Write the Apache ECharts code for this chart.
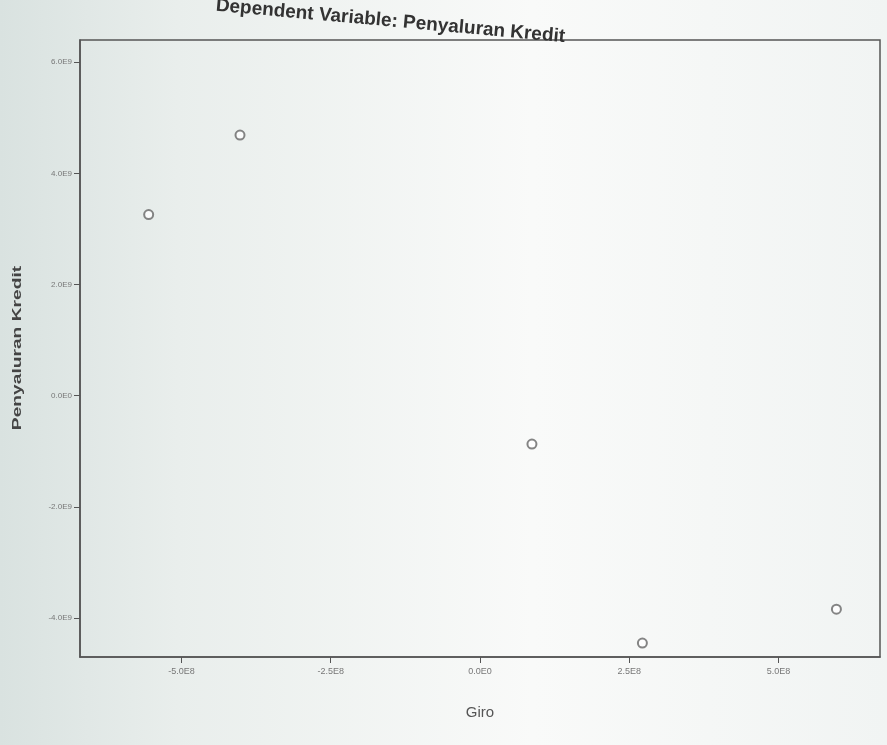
<!DOCTYPE html>
<html><head><meta charset="utf-8">
<script src="https://cdn.jsdelivr.net/npm/echarts@6/dist/echarts.min.js"></script>
<style>html,body{margin:0;padding:0;background:#eef1ef}#c{width:887px;height:745px}</style>
</head><body><div id="c"></div>
<script>
const titleText = "Dependent Variable: Penyaluran Kredit";
const xName = "Giro";
const yName = "Penyaluran Kredit";
const giro = [-5.55e8, -4.02e8, 0.87e8, 2.72e8, 5.97e8];
const kredit = [3.26e9, 4.69e9, -0.87e9, -4.45e9, -3.84e9];
const xTicks = [-5e8, -2.5e8, 0, 2.5e8, 5e8];
const xTickLabels = ["-5.0E8", "-2.5E8", "0.0E0", "2.5E8", "5.0E8"];
const yTicks = [-4e9, -2e9, 0, 2e9, 4e9, 6e9];
const yTickLabels = ["-4.0E9", "-2.0E9", "0.0E0", "2.0E9", "4.0E9", "6.0E9"];

const chart = echarts.init(document.getElementById('c'));
const lab = (vals, labs) => v => { const i = vals.findIndex(t => Math.abs(t - v) < 1); return i >= 0 ? labs[i] : ''; };
chart.setOption({
  backgroundColor: {type:'linear', x:0, y:0, x2:1, y2:0, colorStops:[{offset:0,color:'#d9e2e0'},{offset:0.2,color:'#e9eeec'},{offset:0.6,color:'#f9faf9'},{offset:1,color:'#f1f4f3'}]},
  animation: false,
  grid: {left: 80, right: 7, top: 40, bottom: 88, show: true, borderColor: '#555', borderWidth: 1.5, backgroundColor: 'transparent'},
  graphic: [{
    type: 'text', left: 215, top: -4, rotation: -0.09,
    style: {text: titleText, font: 'bold 19px "Liberation Sans", Arial, sans-serif', fill: '#333'}
  }, {
    type: 'text', x: 18, y: 348, rotation: Math.PI / 2, scaleX: 1.6,
    style: {text: yName, font: 'bold 12px "Liberation Sans", Arial, sans-serif', fill: '#444', align: 'center', verticalAlign: 'middle'}
  }],
  xAxis: {
    type: 'value', min: -6.7e8, max: 6.7e8,
    name: xName, nameLocation: 'middle', nameGap: 48,
    nameTextStyle: {fontSize: 15, color: '#555', fontFamily: 'Liberation Sans'},
    axisLine: {show: true, onZero: false, lineStyle: {color: '#555', width: 1.5}},
    axisTick: {show: true, customValues: xTicks, length: 6, lineStyle: {color: '#555'}},
    axisLabel: {customValues: xTicks, formatter: lab(xTicks, xTickLabels), fontSize: 9, color: '#777', margin: 10, fontFamily: 'Liberation Sans'},
    splitLine: {show: false}
  },
  yAxis: {
    type: 'value', min: -4.7e9, max: 6.4e9,
    axisLine: {show: true, onZero: false, lineStyle: {color: '#555', width: 1.5}},
    axisTick: {show: true, customValues: yTicks, length: 6, lineStyle: {color: '#555'}},
    axisLabel: {customValues: yTicks, formatter: lab(yTicks, yTickLabels), fontSize: 8, color: '#777', margin: 8, fontFamily: 'Liberation Sans'},
    splitLine: {show: false}
  },
  series: [{
    type: 'scatter',
    data: giro.map((g, i) => [g, kredit[i]]),
    symbol: 'emptyCircle', symbolSize: 9,
    itemStyle: {color: '#666', borderColor: '#666', borderWidth: 1.3}
  }]
});
</script></body></html>
